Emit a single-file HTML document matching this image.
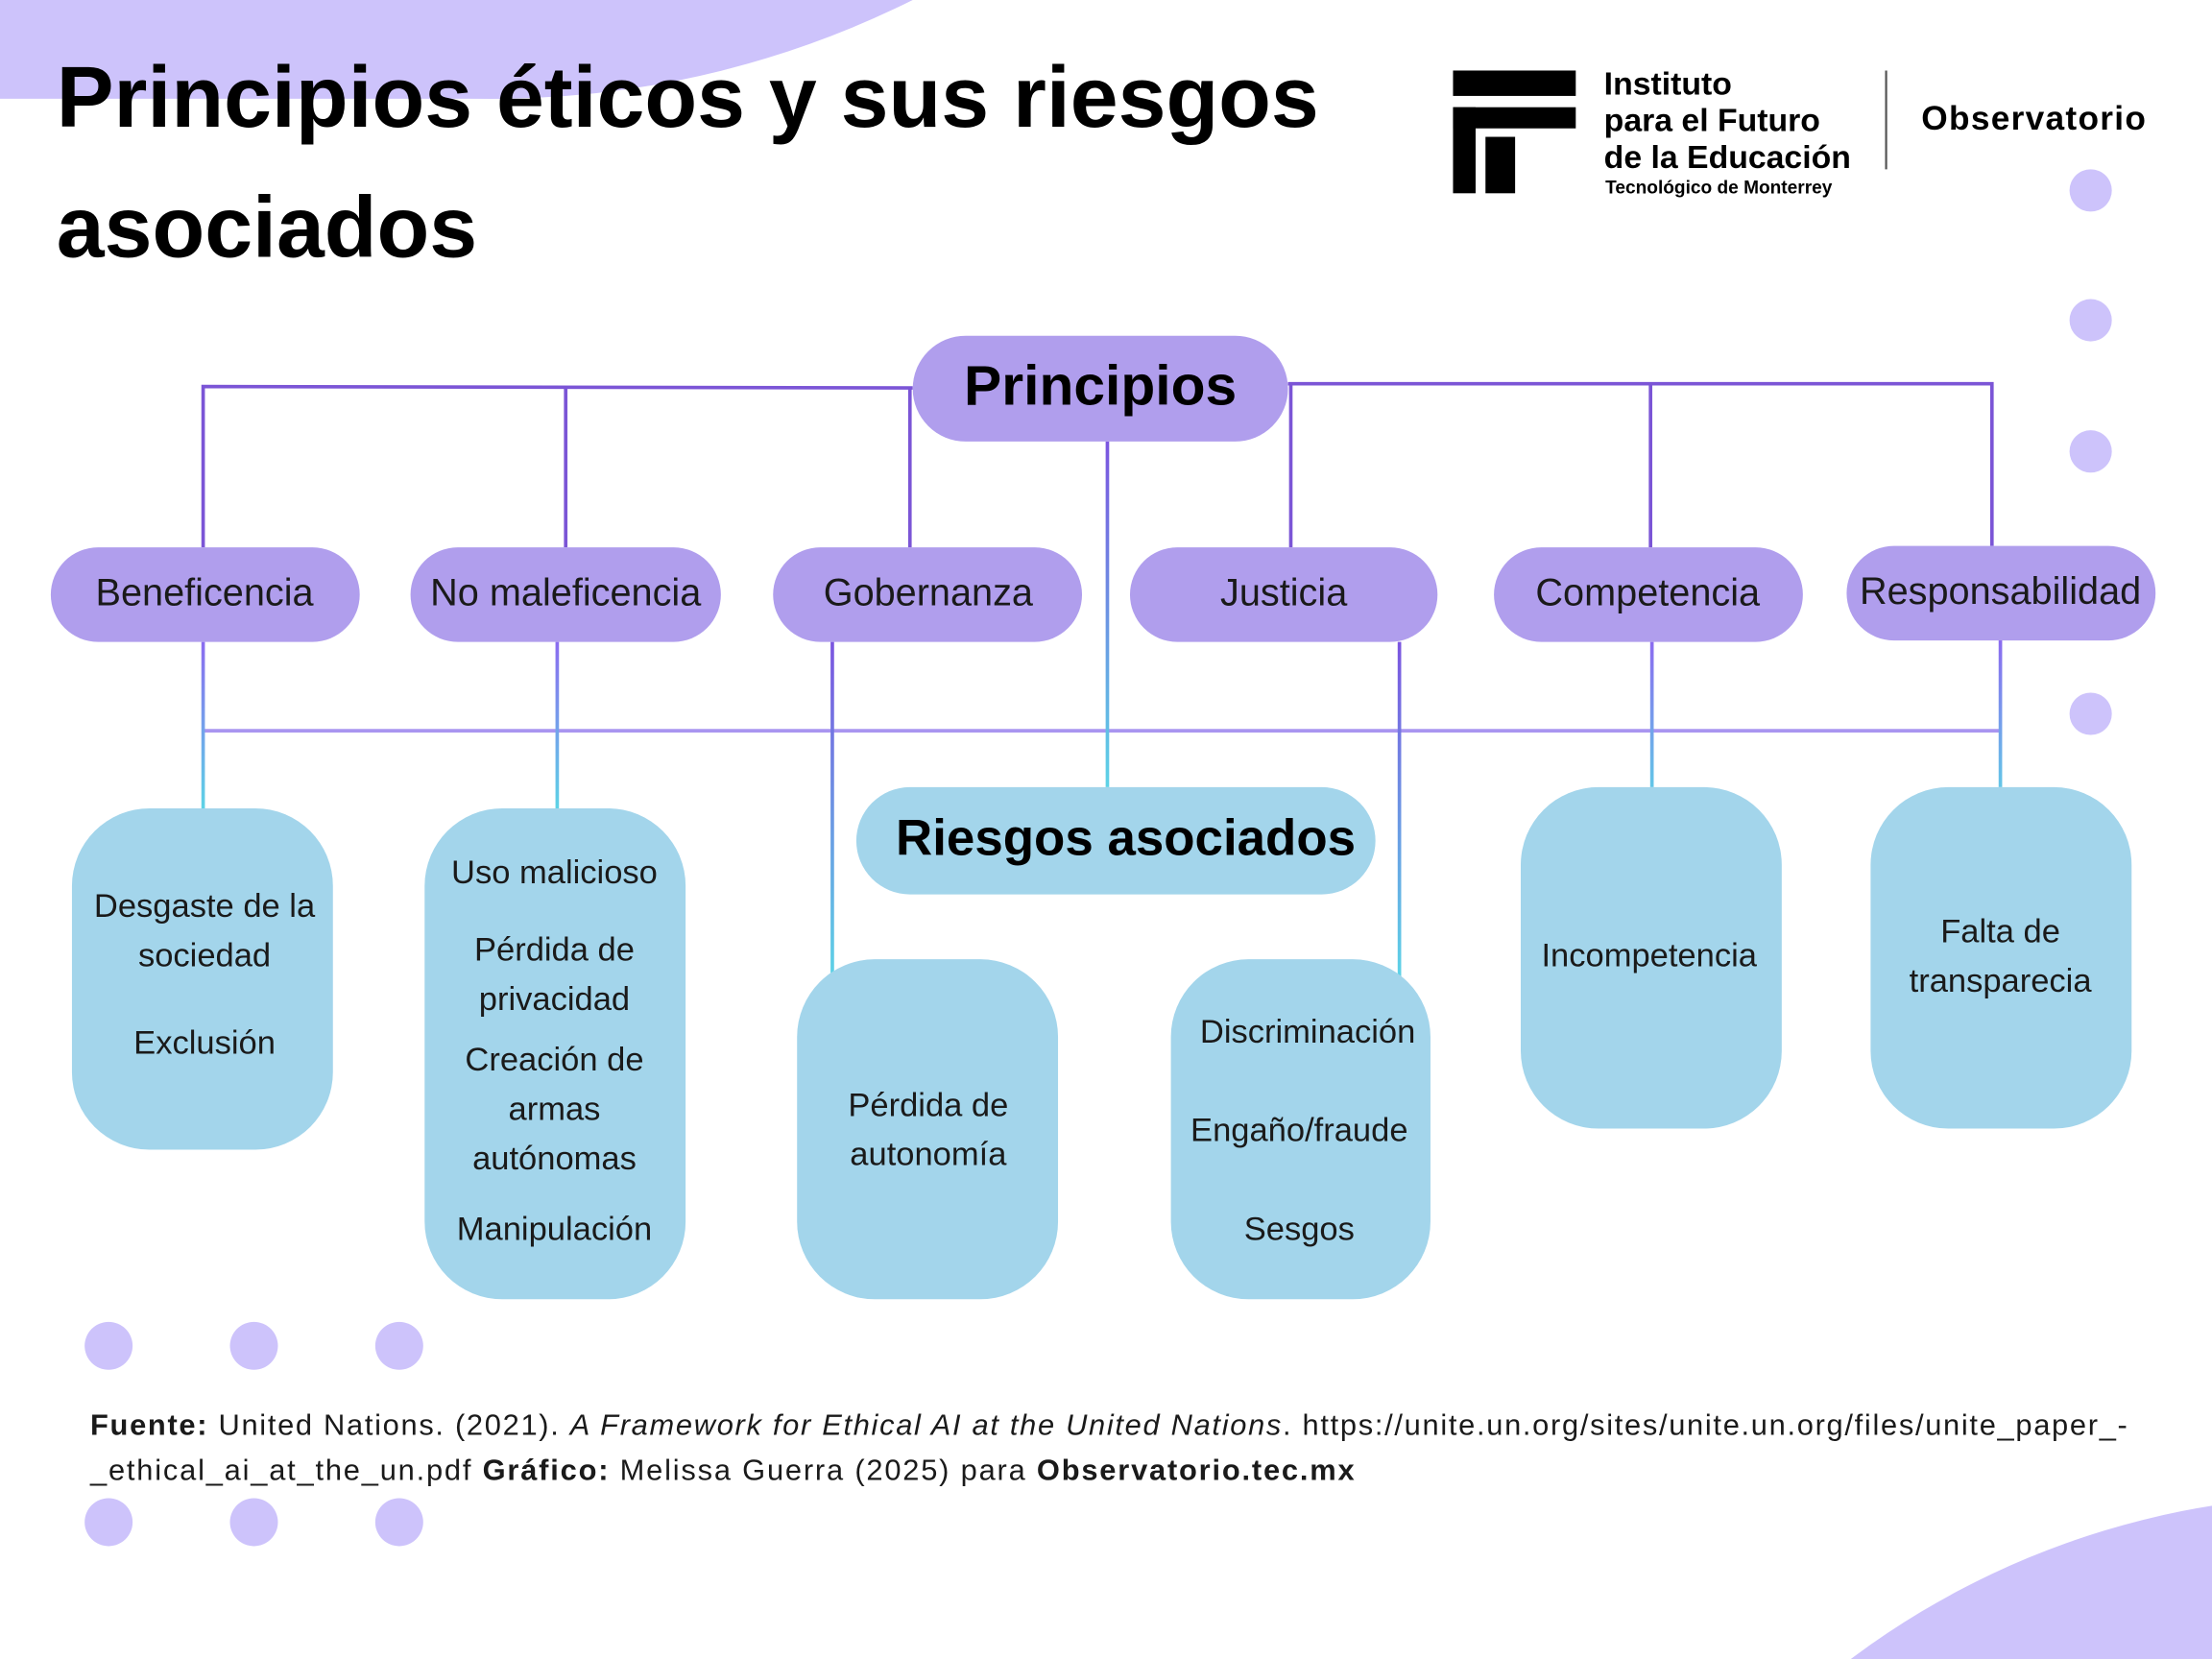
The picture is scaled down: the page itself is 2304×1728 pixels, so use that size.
<!DOCTYPE html>
<html><head><meta charset="utf-8"><style>
html,body{margin:0;padding:0;background:#fff;width:2304px;height:1728px;overflow:hidden;}
svg{display:block;}
text{font-family:"Liberation Sans","DejaVu Sans",sans-serif;}
.p{font-size:27px;fill:#1a1a1a;text-anchor:middle;}
.r{font-size:23.5px;fill:#1a1a1a;text-anchor:middle;}
</style></head><body>
<svg width="2304" height="1728" viewBox="0 0 1568 1176" xmlns="http://www.w3.org/2000/svg">
<defs>
<linearGradient id="g1" gradientUnits="userSpaceOnUse" x1="0" y1="455" x2="0" y2="693"><stop offset="0" stop-color="#7b55e0"/><stop offset="1" stop-color="#5dd3e6"/></linearGradient>
<linearGradient id="g2" gradientUnits="userSpaceOnUse" x1="0" y1="313" x2="0" y2="558"><stop offset="0" stop-color="#7b55e0"/><stop offset="1" stop-color="#5dd3e6"/></linearGradient>
<linearGradient id="g3" gradientUnits="userSpaceOnUse" x1="0" y1="455" x2="0" y2="573"><stop offset="0" stop-color="#8b6cf0"/><stop offset="1" stop-color="#5dd3e6"/></linearGradient>
<clipPath id="c"><rect width="1568" height="1176"/></clipPath>
</defs>
<g clip-path="url(#c)">
<rect width="1568" height="1176" fill="#fff"/>
<circle cx="350" cy="-595" r="665" fill="#cdc3fb"/>
<rect x="0" y="0" width="360" height="70" fill="#cdc3fb"/>
<circle cx="1660" cy="1640" r="580" fill="#cdc3fb"/>
<g fill="#cdc3fb">
<circle cx="1482" cy="135" r="15"/><circle cx="1482" cy="227" r="15"/><circle cx="1482" cy="320" r="15"/><circle cx="1482" cy="506" r="15"/>
<circle cx="77" cy="954" r="17"/><circle cx="180" cy="954" r="17"/><circle cx="283" cy="954" r="17"/>
<circle cx="77" cy="1079" r="17"/><circle cx="180" cy="1079" r="17"/><circle cx="283" cy="1079" r="17"/>
</g>
<text x="40" y="90" font-size="61" font-weight="bold" fill="#000">Principios éticos y sus riesgos</text>
<text x="40" y="182" font-size="61" font-weight="bold" fill="#000">asociados</text>
<g fill="#000">
<rect x="1030" y="50" width="87" height="18"/>
<rect x="1030" y="76" width="87" height="15"/>
<rect x="1030" y="76" width="16" height="61"/>
<rect x="1053" y="97" width="21" height="40"/>
</g>
<g font-weight="bold" fill="#000">
<text x="1137" y="67" font-size="23">Instituto</text>
<text x="1137" y="93" font-size="23">para el Futuro</text>
<text x="1137" y="119" font-size="23">de la Educación</text>
<text x="1138" y="137" font-size="13">Tecnológico de Monterrey</text>
<text x="1362" y="92" font-size="24" textLength="159">Observatorio</text>
</g>
<line x1="1337" y1="50" x2="1337" y2="120" stroke="#555" stroke-width="1.5"/>
<g stroke="#7b55d6" stroke-width="2.5" fill="none">
<polyline points="144,388 144,274 647,275"/>
<line x1="401" y1="274" x2="401" y2="388"/>
<line x1="645" y1="275" x2="645" y2="388"/>
<polyline points="913,272 1412,272 1412,387"/>
<line x1="915" y1="272" x2="915" y2="388"/>
<line x1="1170" y1="272" x2="1170" y2="388"/>
</g>
<line x1="144" y1="518" x2="1418" y2="518" stroke="#a995f0" stroke-width="2.5"/>
<g stroke-width="2.5">
<line x1="785" y1="313" x2="785" y2="558" stroke="url(#g2)"/>
<line x1="144" y1="455" x2="144" y2="573" stroke="url(#g3)"/>
<line x1="395" y1="455" x2="395" y2="573" stroke="url(#g3)"/>
<line x1="590" y1="455" x2="590" y2="693" stroke="url(#g1)"/>
<line x1="992" y1="455" x2="992" y2="693" stroke="url(#g1)"/>
<line x1="1171" y1="455" x2="1171" y2="558" stroke="url(#g3)"/>
<line x1="1418" y1="453" x2="1418" y2="558" stroke="url(#g3)"/>
</g>
<g fill="#b09eed">
<rect x="647" y="238" width="266" height="75" rx="37.5"/>
<rect x="36" y="388" width="219" height="67" rx="33.5"/>
<rect x="291" y="388" width="220" height="67" rx="33.5"/>
<rect x="548" y="388" width="219" height="67" rx="33.5"/>
<rect x="801" y="388" width="218" height="67" rx="33.5"/>
<rect x="1059" y="388" width="219" height="67" rx="33.5"/>
<rect x="1309" y="387" width="219" height="67" rx="33.5"/>
</g>
<text x="780" y="287" font-size="40" font-weight="bold" text-anchor="middle" fill="#000">Principios</text>
<text class="p" x="145" y="429">Beneficencia</text>
<text class="p" x="401" y="429">No maleficencia</text>
<text class="p" x="658" y="429">Gobernanza</text>
<text class="p" x="910" y="429">Justicia</text>
<text class="p" x="1168" y="429">Competencia</text>
<text class="p" x="1418" y="428">Responsabilidad</text>
<g fill="#a3d5eb">
<rect x="607" y="558" width="368" height="76" rx="38"/>
<rect x="51" y="573" width="185" height="242" rx="55"/>
<rect x="301" y="573" width="185" height="348" rx="55"/>
<rect x="565" y="680" width="185" height="241" rx="55"/>
<rect x="830" y="680" width="184" height="241" rx="55"/>
<rect x="1078" y="558" width="185" height="242" rx="55"/>
<rect x="1326" y="558" width="185" height="242" rx="55"/>
</g>
<text x="798" y="606" font-size="36" font-weight="bold" text-anchor="middle" fill="#000">Riesgos asociados</text>
<text class="r" x="145" y="650">Desgaste de la</text>
<text class="r" x="145" y="685">sociedad</text>
<text class="r" x="145" y="747">Exclusión</text>
<text class="r" x="393" y="626">Uso malicioso</text>
<text class="r" x="393" y="681">Pérdida de</text>
<text class="r" x="393" y="716">privacidad</text>
<text class="r" x="393" y="759">Creación de</text>
<text class="r" x="393" y="794">armas</text>
<text class="r" x="393" y="829">autónomas</text>
<text class="r" x="393" y="879">Manipulación</text>
<text class="r" x="658" y="791">Pérdida de</text>
<text class="r" x="658" y="826">autonomía</text>
<text class="r" x="927" y="739">Discriminación</text>
<text class="r" x="921" y="809">Engaño/fraude</text>
<text class="r" x="921" y="879">Sesgos</text>
<text class="r" x="1169" y="685">Incompetencia</text>
<text class="r" x="1418" y="668">Falta de</text>
<text class="r" x="1418" y="703">transparecia</text>
<text x="64" y="1017" font-size="21" fill="#1a1a1a" textLength="1444" lengthAdjust="spacing"><tspan font-weight="bold">Fuente:</tspan> United Nations. (2021). <tspan font-style="italic">A Framework for Ethical AI at the United Nations</tspan>. https://unite.un.org/sites/unite.un.org/files/unite_paper_-</text>
<text x="64" y="1049" font-size="21" fill="#1a1a1a" textLength="896" lengthAdjust="spacing">_ethical_ai_at_the_un.pdf   <tspan font-weight="bold">Gráfico:</tspan> Melissa Guerra (2025) para <tspan font-weight="bold">Observatorio.tec.mx</tspan></text>
</g>
</svg>
</body></html>
